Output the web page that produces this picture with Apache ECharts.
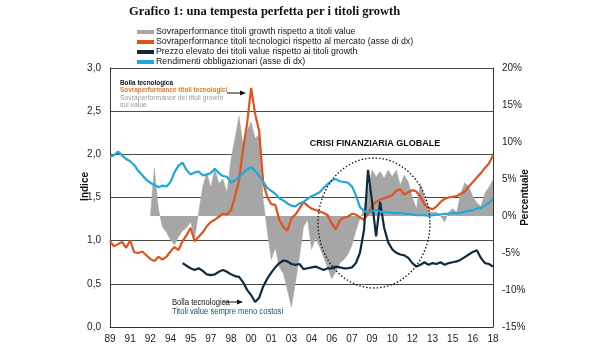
<!DOCTYPE html>
<html><head><meta charset="utf-8">
<script src="https://cdn.jsdelivr.net/npm/echarts@6/dist/echarts.min.js"></script>
<style>html,body{margin:0;padding:0;background:#fff}#c{width:600px;height:360px}</style>
</head><body><div id="c"></div>
<script>
// x-axis tick labels (one every ~18 months)
const xLabels = ['89','91','92','94','95','97','98','00','01','03','04','06','07','09','10','12','13','15','16','18'];
const STEP = 5; // data points per tick interval

// Sovraperformance titoli growth rispetto a titoli value (%, right axis)
const growthVsValue = [null,null,null,null,null,null,null,null,null,null,
  0,6.5,1.0,-1.5,-2.2,-3.2,-3.9,-2.8,-2.0,-1.6,
  -0.8,-3.0,0.5,4.0,5.8,3.9,6.4,4.4,5.0,3.2,
  7.6,10.5,13.5,9.6,11.5,12.7,10.5,11.0,2.2,-2.0,
  -5.9,-4.3,-6.9,-7.8,-10.0,-12.3,-9.0,-5.5,-1.5,-0.5,
  -4.5,-3.0,-4.2,-5.6,-7.0,-8.5,-7.5,-6.4,-5.9,-5.2,
  -4.0,-2.0,-0.3,1.0,3.5,6.2,5.3,6.0,5.1,6.2,
  5.3,6.2,4.2,5.5,4.6,2.5,1.0,4.4,2.5,0.6,
  0.5,0.5,0.0,-0.8,0.5,1.0,0.5,3.1,4.5,4.0,
  2.6,1.8,1.3,3.1,3.9,4.9];

// Sovraperformance titoli tecnologici rispetto al mercato (%, right axis)
const techVsMarket = [-3.4,-4.1,-3.8,-3.5,-4.3,-3.3,-4.9,-5.0,-4.8,-5.3,
  -5.8,-6.1,-5.5,-5.9,-5.5,-4.8,-4.2,-4.6,-3.4,-2.6,
  -1.6,-3.4,-2.8,-2.2,-1.4,-0.8,-0.5,-0.1,0.3,0.2,
  0.8,2.6,4.8,9.0,12.5,17.3,13.8,11.5,4.5,2.6,
  1.6,1.5,-0.5,-1.5,-2.0,-0.3,0.2,1.0,1.9,1.4,
  1.0,0.8,0.6,0.4,0.1,-1.0,-1.8,-0.6,-0.2,-0.1,
  0.3,0.2,-0.2,-0.5,0.3,1.4,1.9,2.2,2.4,2.6,
  2.8,3.4,3.6,2.9,3.2,3.5,3.3,2.6,1.6,1.1,
  0.9,1.3,1.9,2.3,2.5,2.6,2.7,3.0,3.3,4.0,
  4.6,5.2,5.8,6.5,7.1,8.2];

// Prezzo elevato dei titoli value rispetto ai titoli growth (index, left axis)
const valuePremium = [null,null,null,null,null,null,null,null,null,null,
  null,null,null,null,null,null,null,null,0.74,0.71,
  0.68,0.66,0.68,0.65,0.61,0.60,0.61,0.64,0.66,0.64,
  0.61,0.59,0.58,0.52,0.43,0.37,0.29,0.34,0.47,0.56,
  0.63,0.69,0.74,0.77,0.76,0.73,0.72,0.73,0.67,0.68,
  0.69,0.70,0.68,0.66,0.68,0.68,0.70,0.69,0.68,0.68,
  0.69,0.74,0.86,1.12,1.82,1.45,1.05,1.45,1.15,0.98,
  0.90,0.86,0.84,0.83,0.80,0.74,0.70,0.72,0.75,0.72,
  0.74,0.73,0.75,0.72,0.74,0.75,0.76,0.78,0.81,0.84,
  0.87,0.89,0.80,0.74,0.73,0.70];

// Rendimenti obbligazionari (%, right axis)
const bondYields = [8.0,8.2,8.7,8.2,7.7,7.4,6.9,6.1,5.5,4.9,
  4.5,4.2,3.9,4.1,4.0,4.6,5.9,6.8,7.2,6.2,
  5.6,5.9,6.0,5.5,5.6,5.8,6.4,5.8,5.4,5.3,
  4.5,4.8,5.3,5.8,6.3,6.6,6.1,5.4,4.6,3.8,
  3.4,3.0,2.4,2.1,1.7,1.4,1.3,1.7,1.9,2.3,
  2.7,2.9,3.2,3.8,4.3,4.8,5.0,4.7,4.6,4.5,
  4.0,2.8,1.2,0.7,0.4,0.7,0.8,0.6,0.5,0.5,
  0.4,0.4,0.4,0.3,0.3,0.2,0.1,0.1,0.1,0.0,
  0.1,0.2,0.2,0.3,0.3,0.4,0.4,0.4,0.6,0.7,
  0.8,1.0,1.1,1.4,1.8,2.3];

const seriesNames = [
  'Sovraperformance titoli growth rispetto a titoli value',
  'Sovraperformance titoli tecnologici rispetto al mercato (asse di dx)',
  'Prezzo elevato dei titoli value rispetto ai titoli growth',
  'Rendimenti obbligazionari (asse di dx)'
];

const toXY = arr => arr.map((v, i) => [i / STEP, v]);
const SANS = '"Liberation Sans",Arial,sans-serif';

// dotted ellipse outline (annotation, pixel space)
const ell = [];
for (let k = 0; k < 120; k++) {
  const a = k / 120 * Math.PI * 2;
  ell.push([374 + 56 * Math.cos(a), 223 + 65 * Math.sin(a)]);
}

const note = (text, x, y, font, fill, sx) => ({
  type: 'text', x: x, y: y, scaleX: sx, z: 10,
  style: {text: text, font: font, fill: fill}
});

const chart = echarts.init(document.getElementById('c'), null, {renderer: 'canvas'});
chart.setOption({
  animation: false,
  backgroundColor: '#fff',
  title: {
    text: 'Grafico 1: una tempesta perfetta per i titoli growth',
    left: 129, top: 5, padding: 0,
    textStyle: {fontFamily: '"Liberation Serif",serif', fontWeight: 'bold', fontSize: 12.5, color: '#111'}
  },
  legend: {
    orient: 'vertical', left: 137, top: 27, padding: 0,
    itemWidth: 17, itemHeight: 4, itemGap: 0, icon: 'rect',
    textStyle: {fontFamily: SANS, fontSize: 8.8, lineHeight: 10, color: '#111', padding: [0, 0, 0, -3]},
    data: seriesNames
  },
  grid: {left: 110, right: 107, top: 68, bottom: 33},
  xAxis: {
    type: 'value', min: 0, max: xLabels.length - 1, interval: 1,
    axisLine: {show: true, lineStyle: {color: '#333', width: 1}},
    axisTick: {show: false},
    splitLine: {show: false},
    axisLabel: {formatter: v => xLabels[v] || '', fontFamily: SANS, fontSize: 10, color: '#222', margin: 7}
  },
  yAxis: [
    {
      type: 'value', min: 0, max: 3, interval: 0.5,
      axisLine: {show: true, lineStyle: {color: '#333'}},
      axisTick: {show: false},
      splitLine: {show: true, lineStyle: {color: '#4a4a4a', width: 1}},
      axisLabel: {formatter: v => v.toFixed(1).replace('.', ','), fontFamily: SANS, fontSize: 10, color: '#222', margin: 9}
    },
    {
      type: 'value', min: -15, max: 20, interval: 5, position: 'right',
      name: 'Percentuale', nameLocation: 'middle', nameRotate: 90, nameGap: 27, nameMoveOverlap: false,
      nameTextStyle: {fontFamily: SANS, fontWeight: 'bold', fontSize: 10, color: '#111'},
      axisLine: {show: true, lineStyle: {color: '#333'}},
      axisTick: {show: false},
      splitLine: {show: false},
      axisLabel: {formatter: '{value}%', fontFamily: SANS, fontSize: 10, color: '#222', margin: 9}
    }
  ],
  series: [
    {
      name: seriesNames[0], type: 'line', yAxisIndex: 1, data: toXY(growthVsValue),
      symbol: 'none', lineStyle: {width: 0.5, color: '#a8a8a8'}, itemStyle: {color: '#a6a6a6'},
      areaStyle: {color: '#a6a6a6', opacity: 1, origin: 0}, z: 1
    },
    {
      name: seriesNames[1], type: 'line', yAxisIndex: 1, data: toXY(techVsMarket),
      symbol: 'none', lineStyle: {width: 2.2, color: '#e2521c'}, itemStyle: {color: '#e2521c'}, z: 2
    },
    {
      name: seriesNames[2], type: 'line', yAxisIndex: 0, data: toXY(valuePremium),
      symbol: 'none', lineStyle: {width: 2.2, color: '#0e2a40'}, itemStyle: {color: '#0e2a40'}, z: 3
    },
    {
      name: seriesNames[3], type: 'line', yAxisIndex: 1, data: toXY(bondYields),
      symbol: 'none', lineStyle: {width: 2.2, color: '#21a8d8'}, itemStyle: {color: '#21a8d8'}, z: 4
    }
  ],
  graphic: [
    {type: 'text', left: 80, top: 172, rotation: Math.PI / 2,
      style: {text: 'Indice', font: 'bold 10px ' + SANS, fill: '#111'}},
    note('Bolla tecnologica', 120, 79, 'bold 8px ' + SANS, '#111', 0.8),
    note('Sovraperformance titoli tecnologici', 120, 86, 'bold 8px ' + SANS, '#e8781e', 0.8),
    note('Sovraperformance dei titoli growth', 120, 94, '8px ' + SANS, '#999', 0.85),
    note('sui value', 120, 101, '8px ' + SANS, '#999', 0.85),
    {type: 'line', z: 10, shape: {x1: 227, y1: 93, x2: 241, y2: 93}, style: {stroke: '#111', lineWidth: 1}},
    {type: 'polygon', z: 10, shape: {points: [[246, 93], [240, 90.5], [240, 95.5]]}, style: {fill: '#111'}},
    {type: 'text', x: 375, y: 144, z: 10, style: {text: 'CRISI FINANZIARIA GLOBALE', font: 'bold 9px ' + SANS, fill: '#111', align: 'center', verticalAlign: 'middle'}},
    note('Bolla tecnologica', 172, 298, '8.5px ' + SANS, '#111', 0.9),
    {type: 'line', z: 10, shape: {x1: 223, y1: 302, x2: 237, y2: 302}, style: {stroke: '#111', lineWidth: 1}},
    {type: 'polygon', z: 10, shape: {points: [[243, 302], [237, 299.5], [237, 304.5]]}, style: {fill: '#111'}},
    note('Titoli value sempre meno costosi', 172, 307, '8.5px ' + SANS, '#1d4f72', 0.9),
    {type: 'polygon', z: 10, shape: {points: ell}, style: {fill: 'none', stroke: '#111', lineWidth: 1.3, lineDash: [1.5, 2]}}
  ]
});
</script>
</body></html>
